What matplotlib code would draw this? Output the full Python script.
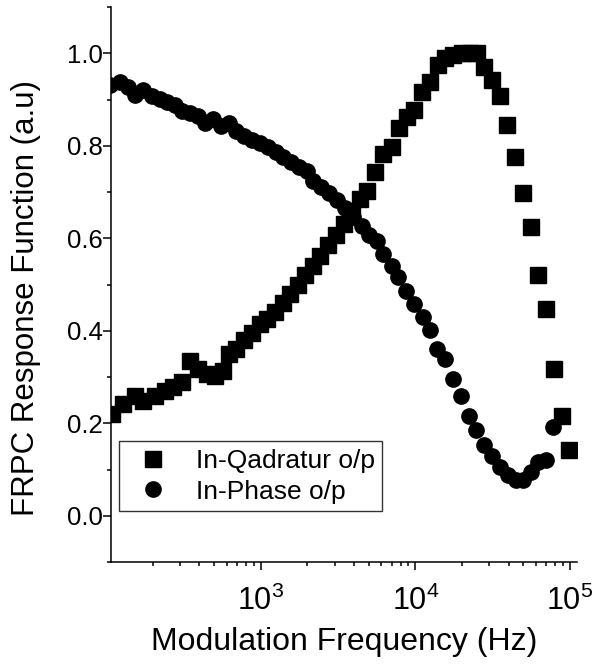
import numpy as np
import matplotlib
matplotlib.use("Agg")
import matplotlib.pyplot as plt
from matplotlib.ticker import MultipleLocator, FormatStrFormatter, LogLocator

plt.rcParams['font.family'] = ['Liberation Sans', 'DejaVu Sans']
plt.rcParams['mathtext.fontset'] = 'custom'
plt.rcParams['mathtext.rm'] = 'Liberation Sans'
plt.rcParams['mathtext.it'] = 'Liberation Sans:italic'

# In-Qadratur o/p (squares)
frec_q = [108, 128, 153, 172, 206, 239, 269, 308, 347, 391, 447, 504, 567, 620,
          689, 776, 874, 985, 1094, 1231, 1388, 1540, 1735, 1926, 2170, 2409,
          2714, 3057, 3444, 3880, 4372, 4853, 5466, 6160, 7044, 7819, 8809,
          9777, 11015, 12408, 13980, 15515, 17480, 19990, 22520, 25000, 27750,
          31260, 35220, 39100, 44050, 49630, 55910, 62050, 69920, 78770, 88750,
          98500]
cuad = [0.22, 0.241, 0.258, 0.248, 0.259, 0.27, 0.278, 0.289, 0.334, 0.317,
        0.306, 0.302, 0.313, 0.349, 0.36, 0.38, 0.396, 0.415, 0.425, 0.44,
        0.46, 0.48, 0.50, 0.52, 0.54, 0.562, 0.585, 0.607, 0.63, 0.658, 0.685,
        0.703, 0.744, 0.782, 0.797, 0.838, 0.862, 0.877, 0.916, 0.937, 0.974,
        0.989, 0.996, 1.0, 1.0, 1.0, 0.97, 0.942, 0.907, 0.845, 0.776, 0.698,
        0.625, 0.52, 0.448, 0.318, 0.215, 0.142]

# In-Phase o/p (circulos)
frec_f = [105, 122, 138, 153, 172, 197, 222, 246, 277, 308, 347, 391, 434, 489,
          551, 620, 689, 776, 874, 985, 1110, 1250, 1388, 1563, 1761, 1984,
          2170, 2445, 2754, 3103, 3496, 3938, 4504, 4998, 5631, 6160, 7044,
          7703, 8677, 9777, 11180, 12408, 13770, 15515, 17480, 19700, 22190,
          24630, 27750, 31260, 35220, 39680, 44710, 49630, 55910, 62050, 69920,
          77620]
fase = [0.931, 0.938, 0.927, 0.91, 0.92, 0.907, 0.902, 0.895, 0.888, 0.875,
        0.871, 0.864, 0.849, 0.857, 0.843, 0.849, 0.832, 0.822, 0.813, 0.807,
        0.797, 0.786, 0.775, 0.764, 0.753, 0.746, 0.724, 0.711, 0.698, 0.683,
        0.666, 0.647, 0.627, 0.606, 0.594, 0.567, 0.541, 0.516, 0.485, 0.457,
        0.429, 0.401, 0.361, 0.338, 0.295, 0.259, 0.216, 0.185, 0.153, 0.129,
        0.106, 0.088, 0.077, 0.077, 0.095, 0.116, 0.121, 0.192]

fig = plt.figure(figsize=(5.95, 6.66), dpi=100)
ax = fig.add_axes([111/595, 104/666, 466/595, 555/666])

ax.plot(frec_q, cuad, 's', color='black', ms=11, label='In-Qadratur o/p')
ax.plot(frec_f, fase, 'o', color='black', ms=11, label='In-Phase o/p')

ax.set_xscale('log')
ax.set_xlim(107, 1.11e5)
ax.set_ylim(-0.1, 1.1)

ax.spines['top'].set_visible(False)
ax.spines['right'].set_visible(False)
for s in ['left', 'bottom']:
    ax.spines[s].set_linewidth(1.1)

ax.yaxis.set_major_locator(MultipleLocator(0.2))
ax.yaxis.set_minor_locator(MultipleLocator(0.1))
ax.yaxis.set_major_formatter(FormatStrFormatter('%.1f'))
ax.xaxis.set_major_locator(LogLocator(base=10))
ax.xaxis.set_minor_locator(LogLocator(base=10, subs=np.arange(2, 10)))

ax.tick_params(which='major', direction='out', length=6, width=1.1)
ax.tick_params(which='minor', direction='out', length=3, width=1.1)
ax.tick_params(axis='y', labelsize=18.5, pad=0)
ax.tick_params(axis='x', labelsize=22, pad=11)

ax.set_xlabel("Modulation Frequency (Hz)", fontsize=23, labelpad=7)
ax.set_ylabel("FRPC Response Function (a.u)", fontsize=22.5)
ax.yaxis.set_label_coords(-0.15, 0.475)

leg = ax.legend(loc='upper left', bbox_to_anchor=(8/466, 121/555),
                borderaxespad=0, fontsize=19, frameon=True, fancybox=False,
                edgecolor='#333333', framealpha=1, borderpad=0.3,
                handlelength=2.0, handletextpad=0.6, labelspacing=0.25)
leg.get_frame().set_linewidth(1.0)

plt.savefig("out.png", dpi=100)
